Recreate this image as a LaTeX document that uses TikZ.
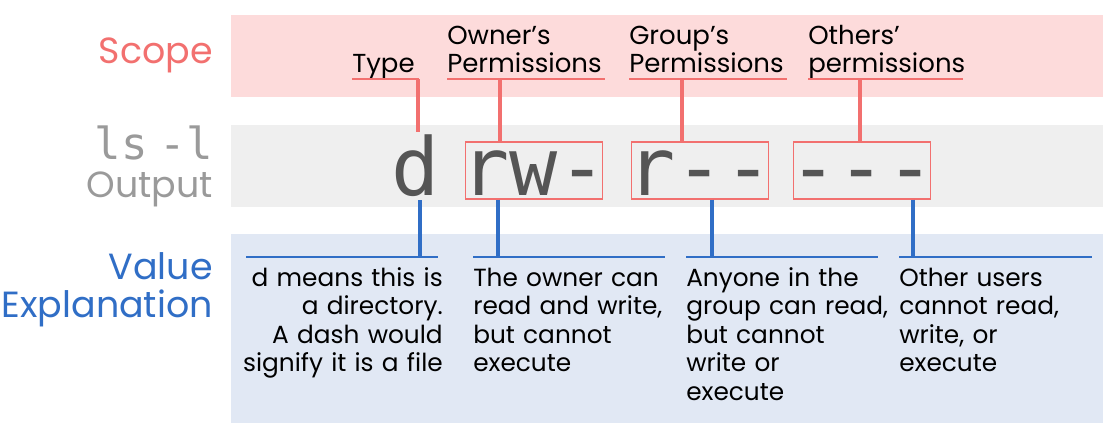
\documentclass[tikz,border=0pt]{standalone}
\usepackage{fontspec}
\setmainfont{Poppins}
\setmonofont{DejaVu Sans Mono}
\usetikzlibrary{calc}
\newdimen\px \px=0.75pt
\definecolor{scopered}{HTML}{F2706F}
\definecolor{scopebg}{HTML}{FDDBDB}
\definecolor{outgray}{HTML}{9A9A9A}
\definecolor{outbg}{HTML}{EFEFEF}
\definecolor{chargray}{HTML}{555555}
\definecolor{valblue}{HTML}{306EC6}
\definecolor{valbg}{HTML}{E1E8F4}
\begin{document}
\begin{tikzpicture}[x=0.75pt,y=-0.75pt]
        \tikzstyle{sidelbl} = [anchor=base east, inner sep=0, text width=215\px, align=right, font=\fontsize{27.3}{28.5}\selectfont]
        \tikzstyle{permchar} = [anchor=base, inner sep=0, text=chargray, font=\ttfamily\fontsize{60}{60}\selectfont, text height=63\px, text depth=5\px]
        \tikzstyle{permbox} = [permchar, draw=scopered, line width=1pt, inner xsep=-4\px, text height=53\px, text depth=4\px]
        \tikzstyle{scopelbl} = [anchor=south west, inner sep=0, text width=200\px, align=left, font=\fontsize{19.5}{21}\selectfont, text depth=34\px]
        \tikzstyle{valtxt} = [anchor=north west, inner sep=0, text width=230\px, align=left, font=\fontsize{18.6}{21.4}\selectfont, text height=29\px]
        \tikzstyle{scopethin} = [draw=scopered, line width=1.1pt]
        \tikzstyle{scopeline} = [draw=scopered, line width=3pt]
        \tikzstyle{valthin} = [draw=valblue, line width=1.1pt]
        \tikzstyle{valline} = [draw=valblue, line width=3pt]
        \useasboundingbox (0,0) rectangle (1115,446);
        % bands
        \fill[scopebg] (231,15) rectangle (1103,97);
        \fill[outbg] (231,125) rectangle (1103,207);
        \fill[valbg] (231,234) rectangle (1103,423);
        % row titles
        \node (scope) [sidelbl, text=scopered] at (213,63) {Scope};
        \node (lsout) [sidelbl, text=outgray] at (213,159) {{\ttfamily\fontsize{33}{28.5}\selectfont ls -l}\\Output};
        \node (value) [sidelbl, text=valblue] at (213,279) {Value\\Explanation};
        % ls -l output
        \node (d) [permchar] at (416,195) {d};
        \node (own) [permbox] at (534,195) {rw-};
        \node (grp) [permbox] at (700,195) {r--};
        \node (oth) [permbox] at (862,195) {---};
        % scope labels
        \node (typl) [scopelbl, text depth=6\px] at (352,79) {Type};
        \node (ownl) [scopelbl] at (447,79) {Owner’s\\Permissions};
        \node (grpl) [scopelbl] at (629,79) {Group’s\\Permissions};
        \node (othl) [scopelbl] at (808,79) {Others’\\permissions};
        \draw[scopethin] (typl.south west) -- ++(67,0);
        \draw[scopethin] (ownl.south west) -- ++(158,0);
        \draw[scopethin] (grpl.south west) -- ++(158,0);
        \draw[scopethin] (othl.south west) -- ++(155,0);
        \draw[scopeline] ($(d.north)+(2,0)$) coordinate (r1) -- (r1 |- typl.south);
        \draw[scopeline] ($(own.north)+(-34,0)$) coordinate (r2) -- (r2 |- ownl.south);
        \draw[scopeline] ($(grp.north)+(-18,0)$) coordinate (r3) -- (r3 |- grpl.south);
        \draw[scopeline] ($(oth.north)+(-2,0)$) coordinate (r4) -- (r4 |- othl.south);
        % value explanations
        \node (dd) [valtxt, anchor=north east, align=right] at (443,257) {d means this is\\a directory.\\A dash would\\signify it is a file};
        \node (owd) [valtxt] at (473,257) {The owner can\\read and write,\\but cannot\\execute};
        \node (grd) [valtxt] at (686,257) {Anyone in the\\group can read,\\but cannot\\write or\\execute};
        \node (othd) [valtxt] at (899,257) {Other users\\cannot read,\\write, or\\execute};
        \draw[valthin] ($(dd.north east)+(-197,0)$) -- ++(192,0);
        \draw[valthin] (owd.north west) -- ++(192,0);
        \draw[valthin] (grd.north west) -- ++(192,0);
        \draw[valthin] (othd.north west) -- ++(193,0);
        \draw[valline] ($(d.south)+(4,0)$) coordinate (b1) -- (b1 |- dd.north);
        \draw[valline] ($(own.south)+(-36,0)$) coordinate (b2) -- (b2 |- owd.north);
        \draw[valline] ($(grp.south)+(12,0)$) coordinate (b3) -- (b3 |- grd.north);
        \draw[valline] ($(oth.south)+(51,0)$) coordinate (b4) -- (b4 |- othd.north);
\end{tikzpicture}
\end{document}
